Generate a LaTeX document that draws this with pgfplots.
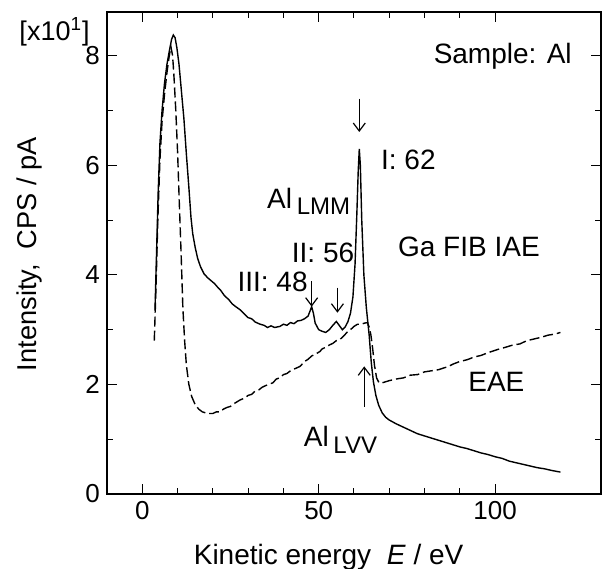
\documentclass[border=0pt]{standalone}
\usepackage{fontspec}
\setmainfont{Liberation Sans}
\usepackage{pgfplots}
\pgfplotsset{compat=1.18}
\usetikzlibrary{arrows.meta}

% Ga FIB ion-induced Auger spectrum (solid)
\pgfplotstableread{
x y
3.6 3.35
4.0 4.3
4.5 5.5
5.0 6.4
5.6 7.0
6.3 7.5
7.0 7.85
7.7 8.1
8.3 8.3
8.8 8.38
9.3 8.33
9.8 8.15
10.4 7.85
11.1 7.35
11.8 6.85
12.5 6.2
13.2 5.6
13.8 5.05
14.3 4.75
15.0 4.5
15.7 4.3
16.5 4.15
17.5 4.02
18.5 3.95
19.4 3.9
20.5 3.84
21.3 3.78
22.2 3.72
23.3 3.62
24.5 3.55
25.5 3.47
26.5 3.42
27.8 3.36
29 3.28
30 3.22
31 3.2
32 3.14
33.4 3.1
34.5 3.08
35.5 3.04
36.5 3.07
37.5 3.04
39 3.06
40 3.1
41 3.08
42 3.13
43 3.11
44 3.16
45 3.17
46 3.2
47 3.25
47.6 3.35
48 3.42
48.5 3.3
49 3.12
50 3.0
51 2.97
52 2.95
53 3.0
54 3.08
55 3.15
55.8 3.08
56.7 3.0
57.5 3.05
58.3 3.15
59 3.3
59.7 3.6
60.3 4.2
60.8 5.1
61.2 5.9
61.5 6.3
61.8 6.0
62.2 5.0
62.8 4.0
63.5 3.4
64.3 2.9
64.9 2.4
65.5 2.05
66.2 1.8
67 1.62
68 1.48
69 1.4
70 1.35
72 1.28
74 1.22
76 1.16
78 1.1
80 1.06
82 1.02
84 0.98
86 0.94
88 0.9
90 0.86
92 0.83
94 0.79
96 0.75
98 0.72
100 0.68
102 0.65
104 0.6
106 0.57
108 0.54
110 0.51
112 0.48
114 0.46
116 0.43
118.5 0.4
}\iae

% electron-induced Auger spectrum (dashed)
\pgfplotstableread{
x y
3.4 2.8
3.9 3.8
4.4 5.0
5.0 6.1
5.6 6.8
6.3 7.3
7.0 7.7
7.6 7.98
8.1 8.17
8.6 8.0
9.0 7.6
9.5 7.0
10.0 6.25
10.5 5.3
11.0 4.4
11.5 3.4
12.0 2.8
12.5 2.35
13.2 2.0
14.0 1.78
15 1.63
16 1.55
17 1.5
18.5 1.47
20 1.47
21 1.5
22 1.5
23 1.55
24 1.58
25 1.6
26 1.65
27.8 1.72
29 1.75
30 1.8
31 1.82
32 1.88
33 1.9
34 1.95
35 1.98
37 2.03
38 2.1
39 2.12
40 2.18
41 2.2
42 2.25
43 2.28
44.7 2.33
46 2.42
47 2.46
48 2.52
49 2.55
50.3 2.6
51 2.65
52 2.68
53 2.72
54 2.75
55 2.8
56 2.82
57 2.88
58 2.95
59 3.0
60 3.06
61 3.1
62 3.1
63 3.12
63.8 3.13
64.3 3.05
64.8 2.9
65.3 2.65
65.8 2.35
66.4 2.12
67.1 2.03
68 2.03
69 2.05
70 2.07
72 2.1
74 2.12
76 2.17
78 2.18
80 2.23
82 2.25
84 2.27
86.8 2.33
88 2.37
90 2.42
92 2.45
94 2.5
96 2.53
98 2.58
100.8 2.64
103 2.68
105 2.72
107 2.74
109 2.8
111 2.83
113 2.86
115 2.9
117 2.92
118.5 2.95
}\eae

\begin{document}
\begin{tikzpicture}
\begin{axis}[
    scale only axis,
    width=247pt, height=241pt,
    xmin=-10, xmax=130, ymin=0, ymax=8.8,
    xtick={0,50,100}, minor x tick num=4,
    ytick={0,2,4,6,8}, minor y tick num=1,
    tick align=inside,
    major tick length=5pt, minor tick length=3pt,
    tick style={black, line width=0.5pt},
    axis line style={line width=0.6pt},
    ticklabel style={font=\fontsize{13}{15}\selectfont},
    /pgf/number format/assume math mode=true,
    clip=false,
    xlabel={Kinetic energy\ \ \textit{E} / eV},
    ylabel={Intensity,\ \ CPS / pA},
    xlabel style={at={(axis cs:52.8,-1.15)}, anchor=center, font=\fontsize{14}{16}\selectfont},
    ylabel style={at={(axis cs:-32,4.38)}, anchor=center, font=\fontsize{13.6}{16}\selectfont},
]
\addplot[black, line width=0.7pt] table {\iae};
\addplot[black, line width=0.7pt, dash pattern=on 5pt off 2pt] table {\eae};

\node[anchor=base west, font=\fontsize{13.5}{15}\selectfont] at (axis cs:-36.8,8.28) {[x10\textsuperscript{1}]};
\node[anchor=base west, font=\fontsize{14}{16}\selectfont] at (axis cs:80.6,7.86) {Sample: Al};
\node[anchor=base west, font=\fontsize{14}{16}\selectfont] at (axis cs:65.7,5.93) {I: 62};
\node[anchor=base west, font=\fontsize{14}{16}\selectfont] at (axis cs:33.4,5.22) {Al\,\raisebox{-0.45ex}{\fontsize{12}{13}\selectfont LMM}};
\node[anchor=base west, font=\fontsize{14}{16}\selectfont] at (axis cs:40.4,4.23) {II: 56};
\node[anchor=base west, font=\fontsize{14}{16}\selectfont] at (axis cs:25,3.70) {III: 48};
\node[anchor=base west, font=\fontsize{14}{16}\selectfont] at (axis cs:70.5,4.34) {Ga FIB IAE};
\node[anchor=base west, font=\fontsize{14}{16}\selectfont] at (axis cs:90.4,1.87) {EAE};
\node[anchor=base west, font=\fontsize{14}{16}\selectfont] at (axis cs:43.8,0.86) {Al\,\raisebox{-0.45ex}{\fontsize{12}{13}\selectfont LVV}};

\draw[-{Straight Barb[length=4pt,width=6pt]}, line width=0.6pt] (axis cs:61.5,7.22) -- (axis cs:61.5,6.61);
\draw[-{Straight Barb[length=4pt,width=6pt]}, line width=0.6pt] (axis cs:48,3.88) -- (axis cs:48,3.42);
\draw[-{Straight Barb[length=4pt,width=6pt]}, line width=0.6pt] (axis cs:55.3,3.77) -- (axis cs:55.3,3.31);
\draw[-{Straight Barb[length=4pt,width=6pt]}, line width=0.6pt] (axis cs:62.9,1.59) -- (axis cs:62.9,2.33);
\end{axis}
\pgfresetboundingbox
\path[use as bounding box] ([shift={(-53.5pt,-37.5pt)}]current axis.south west) rectangle ([shift={(247.5pt,247pt)}]current axis.south west);
\end{tikzpicture}
\end{document}
